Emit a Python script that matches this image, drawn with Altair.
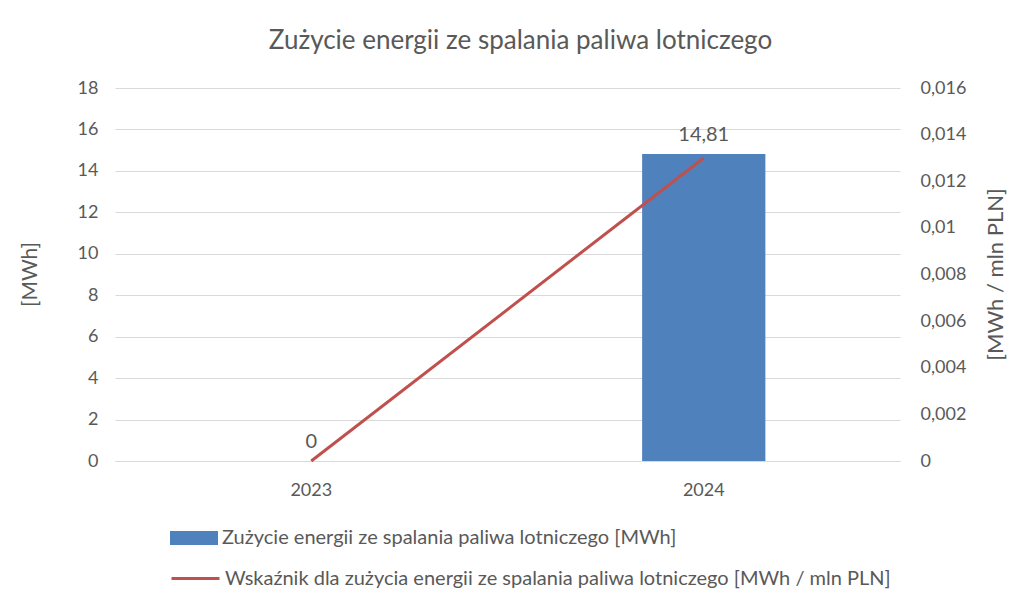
import altair as alt
import pandas as pd

years = ["2023", "2024"]
energy_mwh = [0, 14.81]
index_mwh_per_mln = [0, 0.0130]
bar_series = "Zużycie energii ze spalania paliwa lotniczego [MWh]"
line_series = "Wskaźnik dla zużycia energii ze spalania paliwa lotniczego [MWh / mln PLN]"
left_ticks = [0, 2, 4, 6, 8, 10, 12, 14, 16, 18]
right_ticks = [0, 0.002, 0.004, 0.006, 0.008, 0.01, 0.012, 0.014, 0.016]

df = pd.DataFrame({
    "rok": years,
    "energia": energy_mwh,
    "wskaznik": index_mwh_per_mln,
    "s1": [bar_series] * len(years),
    "s2": [line_series] * len(years),
})

FONT = "Lato"
GRAY = "#595959"

base = alt.Chart(df).encode(
    x=alt.X("rok:N", sort=years,
            scale=alt.Scale(paddingInner=0.686, paddingOuter=0.343),
            axis=alt.Axis(title=None, labelAngle=0, ticks=False, grid=False,
                          domainColor="#D9D9D9", domainWidth=1,
                          labelPadding=20, labelFontSize=18, labelColor=GRAY,
                          labelFont=FONT))
)

yl = alt.Y("energia:Q", scale=alt.Scale(domain=[0, 18], nice=False),
           axis=alt.Axis(title="[MWh]", values=left_ticks, ticks=False, domain=False,
                         grid=True, gridColor="#D9D9D9", labelPadding=17,
                         labelFontSize=18, labelColor=GRAY, labelFont=FONT,
                         titleFont=FONT, titleFontSize=21, titleColor=GRAY,
                         titleFontWeight="normal", titleAngle=270,
                         titleX=-85, titleY=186, titleAlign="center",
                         titleBaseline="middle"))

left = base.encode(y=yl)

bars = left.mark_bar().encode(
    color=alt.Color("s1:N", scale=alt.Scale(range=["#4F81BD"]),
                    legend=alt.Legend(title=None, orient="none", legendX=55, legendY=426,
                                      symbolType="M-1,-0.29H1V0.29H-1Z", symbolSize=2304,
                                      symbolStrokeWidth=0, labelFontSize=20, labelLimit=0,
                                      labelColor=GRAY, labelFont=FONT, labelOffset=4,
                                      padding=0)),
)

labels = left.transform_calculate(
    lab="replace(format(datum.energia, '.2~f'), '.', ',')"
).mark_text(baseline="bottom", dy=-9, fontSize=20, color=GRAY, font=FONT).encode(
    text="lab:N",
)

line = base.mark_line(strokeWidth=3).encode(
    y=alt.Y("wskaznik:Q", scale=alt.Scale(domain=[0, 0.016], nice=False),
            axis=alt.Axis(title="[MWh / mln PLN]", orient="right", values=right_ticks,
                          format="~g", labelExpr="replace(datum.label, '.', ',')",
                          ticks=False, domain=False, grid=False, labelPadding=20,
                          labelFontSize=18, labelColor=GRAY, labelFont=FONT,
                          titleFont=FONT, titleFontSize=22, titleColor=GRAY,
                          titleFontWeight="normal", titleAngle=270,
                          titleX=95, titleY=186, titleAlign="center",
                          titleBaseline="middle")),
    stroke=alt.Stroke("s2:N", scale=alt.Scale(range=["#C0504D"]),
                      legend=alt.Legend(title=None, orient="none", legendX=55, legendY=465,
                                        symbolType="stroke", symbolSize=2304,
                                        symbolStrokeWidth=3, labelFontSize=20, labelLimit=0,
                                        labelColor=GRAY, labelFont=FONT, labelOffset=4,
                                        padding=0)),
)

chart = alt.layer(alt.layer(bars, labels), line).resolve_scale(
    y="independent", color="independent", stroke="independent"
).properties(
    width=785, height=373,
    background="white",
    autosize=alt.AutoSizeParams(type="none"),
    padding={"left": 107, "top": 80, "right": 119, "bottom": 135},
    title=alt.TitleParams("Zużycie energii ze spalania paliwa lotniczego",
                          font=FONT, fontSize=26, fontWeight="normal", color=GRAY,
                          anchor="middle", frame="group", dx=13, offset=25),
).configure_view(stroke=None)

chart.save("out.html", embed_options={"renderer": "svg", "actions": False})
